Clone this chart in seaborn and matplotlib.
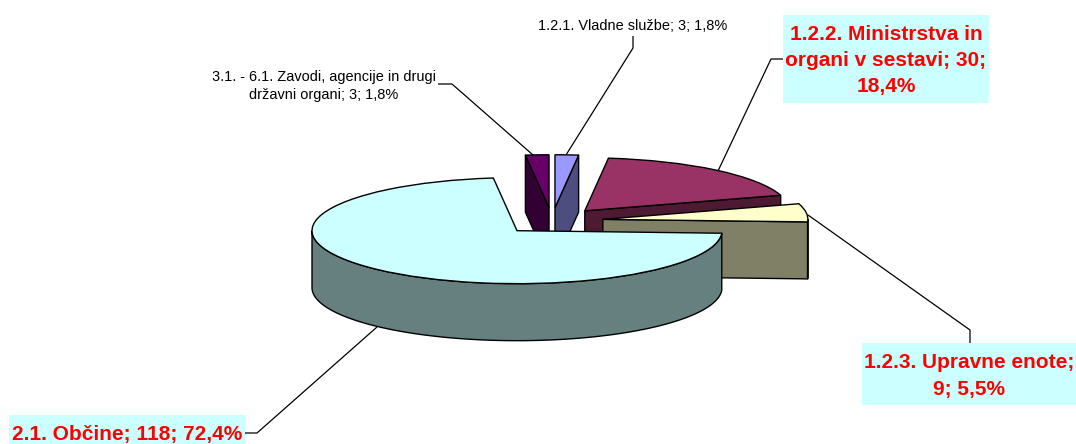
import numpy as np
import matplotlib.pyplot as plt
from matplotlib.patches import Polygon, Rectangle
from matplotlib.transforms import Affine2D
import seaborn as sns

sns.set_theme(style="white")
plt.rcParams['font.family'] = ['Liberation Sans', 'DejaVu Sans']

values = [3, 30, 9, 118, 3]
labels = ["1.2.1. Vladne službe; 3; 1,8%",
          "1.2.2. Ministrstva in\norgani v sestavi; 30;\n18,4%",
          "1.2.3. Upravne enote;\n9; 5,5%",
          "2.1. Občine; 118; 72,4%",
          "3.1. - 6.1. Zavodi, agencije in drugi\ndržavni organi; 3; 1,8%"]
top_colors = ["#9999FF", "#993366", "#FFFFCC", "#CCFFFF", "#660066"]
side_colors = ["#4D4D80", "#4D1933", "#808066", "#668080", "#330033"]
explode = [0.25] * 5

W, H = 1076, 444
cx, cy = 552, H - 221   # pie centre in pixels
rx, ry, depth = 205, 53, 57

fig = plt.figure(figsize=(W / 100, H / 100), dpi=100, facecolor="white")
ax = fig.add_axes([0, 0, 1, 1])

wedges, _ = ax.pie(values, explode=explode, colors=top_colors, startangle=90,
                   counterclock=False, wedgeprops=dict(edgecolor="black", linewidth=1.0))
ax.set_aspect("auto")
ax.set_xlim(0, W)
ax.set_ylim(0, H)
ax.axis("off")

to_px = Affine2D().scale(rx, ry).translate(cx, cy)


def extrude(pts):
    # top edge points in pie units -> closed side face in pixels
    p = to_px.transform(pts)
    q = p - [0, depth]
    return np.vstack([p, q[::-1]])


# painter order: back slices first, big front slice last
order = [4, 0, 1, 2, 3]
for z, i in enumerate(order):
    w = wedges[i]
    c = np.array(w.center)
    t1, t2 = np.radians(w.theta1), np.radians(w.theta2)
    zb = 2 + z * 2
    kw = dict(facecolor=side_colors[i], edgecolor="black", linewidth=1.0, zorder=zb, joinstyle="round")
    # only the cut faces turned towards the viewer
    for t, visible in ((t1, np.cos(t1) > 1e-6), (t2, np.cos(t2) < -1e-6)):
        if visible:
            edge = np.array([c, c + [np.cos(t), np.sin(t)]])
            ax.add_patch(Polygon(extrude(edge), **kw))
    th = np.linspace(t1, t2, 300)
    th = th[np.sin(th) <= 0]
    if len(th) > 1:
        arc = c + np.column_stack([np.cos(th), np.sin(th)])
        ax.add_patch(Polygon(extrude(arc), **kw))
    w.set_transform(to_px + ax.transData)
    w.set_zorder(zb + 1)

small = 10.45
big = 15.05
ax.text(633, H - 26, labels[0], fontsize=small, color="black", ha="center", va="center", zorder=30)
ax.text(324, H - 86, labels[4], fontsize=small, color="black", ha="center", va="center",
        linespacing=1.38, zorder=30)

boxes = [(783, H - 103, 206, 88), (862, H - 405, 214, 62), (9, 0, 236, 29)]
for x, y, bw, bh in boxes:
    ax.add_patch(Rectangle((x, y), bw, bh, facecolor="#CCFFFF", edgecolor="none", zorder=20))
bold_kw = dict(fontsize=big, fontweight="bold", color="#FF0000", ha="center", va="center",
               zorder=30, linespacing=1.47)
ax.text(886, H - 60.5, labels[1], **bold_kw)
ax.text(969, H - 376, labels[2], **bold_kw)
ax.text(127, H - 434, labels[3], **bold_kw)

leaders = [([438, 452, 533], [84, 84, 155]),
           ([633, 633, 566], [36, 48, 155]),
           ([783, 771, 718], [59, 59, 171]),
           ([970, 970, 808], [343, 330, 215]),
           ([245, 257, 377], [433, 433, 327])]
for xs, ys in leaders:
    ax.plot(xs, H - np.array(ys), color="black", lw=0.9, zorder=15, solid_capstyle="butt")

fig.savefig("out.png", dpi=100)
